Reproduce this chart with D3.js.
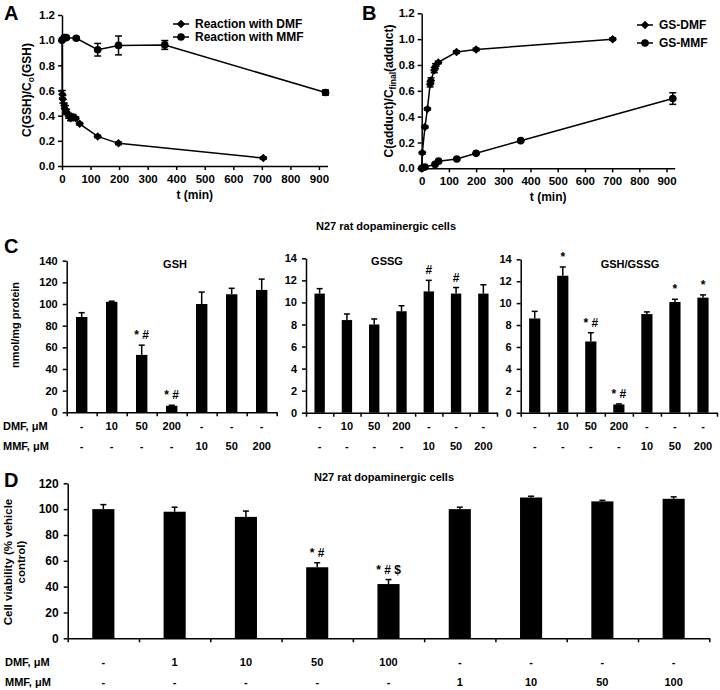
<!DOCTYPE html>
<html>
<head>
<meta charset="utf-8">
<title>DMF / MMF and GSH</title>
<style>
  body { margin: 0; background: #fff; }
  text { font-family: "Liberation Sans", Arial, sans-serif; font-weight: bold; fill: #000; }
</style>
</head>
<body>
<script src="https://cdn.jsdelivr.net/npm/d3@7/dist/d3.min.js"></script>
<script>
// ---- panel A : GSH left over (C/C0) ----
var timeTicks = [0, 100, 200, 300, 400, 500, 600, 700, 800, 900];
var ratioTicks = [0, 0.2, 0.4, 0.6, 0.8, 1.0, 1.2];

var aDmfTime  = [0, 1, 3, 8, 12, 16, 23, 30, 38, 48, 62, 125, 198, 705];
var aDmfValue = [1.0, 0.57, 0.53, 0.48, 0.45, 0.43, 0.40, 0.38, 0.39, 0.38, 0.335, 0.235, 0.18, 0.063];
var aDmfErr   = [0, 0.03, 0.03, 0.02, 0.03, 0.02, 0.02, 0.02, 0.02, 0.01, 0.01, 0.01, 0.01, 0.01];
var aMmfTime  = [0, 8, 15, 50, 125, 198, 360, 923];
var aMmfValue = [1.0, 1.02, 1.02, 1.015, 0.924, 0.958, 0.962, 0.584];
var aMmfErr   = [0, 0.01, 0.01, 0.01, 0.05, 0.075, 0.035, 0.02];

// ---- panel B : adduct formed (C/Cfinal) ----
var bDmfTime  = [0, 2, 12, 21, 31, 34, 46, 51, 61, 128, 200, 702];
var bDmfValue = [0, 0.12, 0.32, 0.46, 0.65, 0.68, 0.76, 0.79, 0.82, 0.90, 0.92, 1.0];
var bDmfErr   = [0, 0.01, 0.01, 0.01, 0.02, 0.02, 0.02, 0.02, 0.01, 0.01, 0.01, 0.01];
var bMmfTime  = [0, 12, 49, 62, 129, 200, 364, 923];
var bMmfValue = [0, 0.01, 0.03, 0.055, 0.072, 0.116, 0.214, 0.54];
var bMmfErr   = [0, 0, 0.005, 0.005, 0.005, 0.005, 0.005, 0.045];

// ---- panel C : N27 cells, 7 groups ----
var cDmfRow = ["-", "10", "50", "200", "-", "-", "-"];
var cMmfRow = ["-", "-", "-", "-", "10", "50", "200"];
var gshTicks  = [0, 20, 40, 60, 80, 100, 120, 140];
var gssgTicks = [0, 2, 4, 6, 8, 10, 12, 14];
var gshValue  = [88, 102, 53, 6, 100, 109, 113];
var gshErr    = [4, 0.6, 9, 0.5, 11, 5.5, 10];
var gshNote   = ["", "", "* #", "* #", "", "", ""];
var gssgValue = [10.8, 8.4, 8.0, 9.2, 11.0, 10.8, 10.8];
var gssgErr   = [0.45, 0.55, 0.5, 0.5, 1.0, 0.55, 0.8];
var gssgNote  = ["", "", "", "", "#", "#", ""];
var ratioValue = [8.6, 12.5, 6.5, 0.75, 9.0, 10.1, 10.5];
var ratioErr   = [0.65, 0.8, 0.8, 0.05, 0.2, 0.25, 0.25];
var ratioNote  = ["", "*", "* #", "* #", "", "*", "*"];

// ---- panel D : cell viability, 9 groups ----
var dDmfRow = ["-", "1", "10", "50", "100", "-", "-", "-", "-"];
var dMmfRow = ["-", "-", "-", "-", "-", "1", "10", "50", "100"];
var viaTicks = [0, 20, 40, 60, 80, 100, 120];
var viaValue = [100, 98, 94, 55, 42, 100, 109, 106, 108];
var viaErr   = [3.5, 3.5, 4.5, 3.5, 3.5, 1.5, 1, 0.8, 1.5];
var viaNote  = ["", "", "", "* #", "* # $", "", "", "", ""];

var FONT = "'Liberation Sans', Arial, sans-serif";

var svg = d3.select("body").append("svg")
    .attr("width", 720)
    .attr("height", 690);

function fixAxis(g, size) {
  g.attr("font-family", FONT).attr("font-size", size).attr("font-weight", "bold");
  g.selectAll("path, line").attr("stroke", "#000").attr("stroke-width", 1.5);
  g.selectAll("text").attr("fill", "#000");
}

// diamond marker, a square turned on its corner
var diamond = {
  draw: function(ctx, size) {
    var r = Math.sqrt(size) / 2;
    ctx.moveTo(0, -r); ctx.lineTo(r, 0); ctx.lineTo(0, r); ctx.lineTo(-r, 0); ctx.closePath();
  }
};

function linePanel(o) {
  var x = d3.scaleLinear().domain([0, 930]).range([o.left, o.right]);
  var y = d3.scaleLinear().domain([0, 1.2]).range([o.bottom, o.top]);

  var gx = svg.append("g")
      .attr("transform", "translate(0," + o.bottom + ")")
      .call(d3.axisBottom(x).tickValues(timeTicks).tickSize(4).tickSizeOuter(0).tickPadding(5));
  fixAxis(gx, 11.5);
  var gy = svg.append("g")
      .attr("transform", "translate(" + o.left + ",0)")
      .call(d3.axisLeft(y).tickValues(ratioTicks).tickFormat(d3.format(".1f")).tickSize(4).tickSizeOuter(0).tickPadding(3));
  fixAxis(gy, 11.5);

  svg.append("text")
      .attr("x", (o.left + o.right) / 2).attr("y", o.bottom + 33)
      .attr("text-anchor", "middle").attr("font-size", 12)
      .text("t (min)");

  var yl = svg.append("text")
      .attr("transform", "translate(" + o.labelX + "," + o.labelY + ") rotate(-90)")
      .attr("text-anchor", "middle").attr("font-size", 12);
  yl.append("tspan").text(o.label[0]);
  yl.append("tspan").attr("font-size", 8.5).attr("dy", 3).text(o.label[1]);
  yl.append("tspan").attr("dy", -3).text(o.label[2]);

  o.series.forEach(function(s, k) {
    var pts = s.t.map(function(t, i) { return {t: t, v: s.v[i], e: s.e[i]}; });
    var line = d3.line().x(function(d) { return x(d.t); }).y(function(d) { return y(d.v); });
    var g = svg.append("g");
    g.append("path").attr("d", line(pts))
        .attr("fill", "none").attr("stroke", "#000").attr("stroke-width", 1.5);

    var eb = g.selectAll(".eb").data(pts.filter(function(d) { return d.e > 0; })).enter().append("g")
        .attr("stroke", "#000").attr("stroke-width", 1.5);
    eb.append("line")
        .attr("x1", function(d) { return x(d.t); }).attr("x2", function(d) { return x(d.t); })
        .attr("y1", function(d) { return y(d.v - d.e); }).attr("y2", function(d) { return y(d.v + d.e); });
    eb.append("line")
        .attr("x1", function(d) { return x(d.t) - 3.5; }).attr("x2", function(d) { return x(d.t) + 3.5; })
        .attr("y1", function(d) { return y(d.v - d.e); }).attr("y2", function(d) { return y(d.v - d.e); });
    eb.append("line")
        .attr("x1", function(d) { return x(d.t) - 3.5; }).attr("x2", function(d) { return x(d.t) + 3.5; })
        .attr("y1", function(d) { return y(d.v + d.e); }).attr("y2", function(d) { return y(d.v + d.e); });

    var sym = d3.symbol().type(s.shape === "diamond" ? diamond : d3.symbolCircle).size(s.shape === "diamond" ? 72 : 46);
    g.selectAll(".pt").data(pts).enter().append("path")
        .attr("d", sym)
        .attr("transform", function(d) { return "translate(" + x(d.t) + "," + y(d.v) + ")"; })
        .attr("fill", "#000");

    // legend
    var ly = o.legY + k * o.legGap;
    svg.append("line").attr("x1", o.legX).attr("x2", o.legX + 16).attr("y1", ly).attr("y2", ly)
        .attr("stroke", "#000").attr("stroke-width", 1.5);
    svg.append("path").attr("d", sym).attr("transform", "translate(" + (o.legX + 8) + "," + ly + ")");
    svg.append("text").attr("x", o.legX + 22).attr("y", ly).attr("dy", "0.35em")
        .attr("font-size", 12).text(s.name);
  });
}

function barPanel(o) {
  var n = o.values.length;
  var x = d3.scaleBand().domain(d3.range(n)).range([o.left, o.right]).paddingInner(o.pad).paddingOuter(o.pad / 2);
  var xb = d3.scaleLinear().domain([0, n]).range([o.left, o.right]);
  var y = d3.scaleLinear().domain([0, o.ticks[o.ticks.length - 1]]).range([o.bottom, o.top]);
  var bw = x.bandwidth();

  var gx = svg.append("g")
      .attr("transform", "translate(0," + o.bottom + ")")
      .call(d3.axisBottom(xb).tickValues(d3.range(n + 1)).tickFormat("").tickSize(4).tickSizeOuter(0));
  fixAxis(gx, 11);
  var gy = svg.append("g")
      .attr("transform", "translate(" + o.left + ",0)")
      .call(d3.axisLeft(y).tickValues(o.ticks).tickSize(4).tickSizeOuter(0).tickPadding(5));
  fixAxis(gy, o.tickFont);

  var g = svg.append("g");
  g.selectAll("rect").data(o.values).enter().append("rect")
      .attr("x", function(d, i) { return x(i); })
      .attr("y", function(d) { return y(d); })
      .attr("width", bw)
      .attr("height", function(d) { return o.bottom - y(d); })
      .attr("fill", "#000");

  var eg = g.selectAll(".err").data(o.values).enter().append("g")
      .attr("stroke", "#000").attr("stroke-width", 1.5);
  eg.append("line")
      .attr("x1", function(d, i) { return x(i) + bw / 2; }).attr("x2", function(d, i) { return x(i) + bw / 2; })
      .attr("y1", function(d) { return y(d); })
      .attr("y2", function(d, i) { return y(d + o.errors[i]); });
  eg.append("line")
      .attr("x1", function(d, i) { return x(i) + bw / 2 - 3; }).attr("x2", function(d, i) { return x(i) + bw / 2 + 3; })
      .attr("y1", function(d, i) { return y(d + o.errors[i]); })
      .attr("y2", function(d, i) { return y(d + o.errors[i]); });

  g.selectAll(".note").data(o.notes).enter().append("text")
      .attr("x", function(d, i) { return x(i) + bw / 2; })
      .attr("y", function(d, i) { return y(o.values[i] + o.errors[i]) - 6; })
      .attr("text-anchor", "middle").attr("font-size", 12)
      .text(function(d) { return d; });

  if (o.title) {
    svg.append("text").attr("x", o.titleX).attr("y", o.titleY)
        .attr("text-anchor", "middle").attr("font-size", 11).text(o.title);
  }

  [o.row1, o.row2].forEach(function(row, r) {
    svg.append("g").selectAll("text").data(row).enter().append("text")
        .attr("x", function(d, i) { return x(i) + bw / 2; })
        .attr("y", o.rowY[r]).attr("dy", "0.35em")
        .attr("text-anchor", "middle").attr("font-size", 11)
        .text(function(d) { return d; });
  });
}

// ---- panel letters ----
[["A", 4, 20], ["B", 362, 20], ["C", 4, 253], ["D", 4, 487]].forEach(function(p) {
  svg.append("text").attr("x", p[1]).attr("y", p[2]).attr("font-size", 20).text(p[0]);
});

linePanel({
  left: 62, right: 327.5, top: 15, bottom: 166,
  label: ["C(GSH)/C", "o", "(GSH)"], labelX: 31, labelY: 90,
  legX: 173, legY: 24, legGap: 13,
  series: [
    {name: "Reaction with DMF", shape: "diamond", t: aDmfTime, v: aDmfValue, e: aDmfErr},
    {name: "Reaction with MMF", shape: "circle", t: aMmfTime, v: aMmfValue, e: aMmfErr}
  ]
});

linePanel({
  left: 421.7, right: 674.7, top: 13.3, bottom: 168.3,
  label: ["C(adduct)/C", "final", "(adduct)"], labelX: 393, labelY: 91,
  legX: 637, legY: 25, legGap: 18,
  series: [
    {name: "GS-DMF", shape: "diamond", t: bDmfTime, v: bDmfValue, e: bDmfErr},
    {name: "GS-MMF", shape: "circle", t: bMmfTime, v: bMmfValue, e: bMmfErr}
  ]
});

// ---- panel C ----
svg.append("text").attr("x", 386).attr("y", 230).attr("text-anchor", "middle")
    .attr("font-size", 11).text("N27 rat dopaminergic cells");
svg.append("text").attr("transform", "translate(19,325) rotate(-90)")
    .attr("text-anchor", "middle").attr("font-size", 11).text("nmol/mg protein");
svg.append("text").attr("x", 3).attr("y", 426).attr("dy", "0.35em").attr("font-size", 11).text("DMF, μM");
svg.append("text").attr("x", 3).attr("y", 446).attr("dy", "0.35em").attr("font-size", 11).text("MMF, μM");

barPanel({left: 66.7, right: 276.7, top: 260.7, bottom: 412.3, pad: 0.62, ticks: gshTicks, tickFont: 11,
  values: gshValue, errors: gshErr, notes: gshNote, title: "GSH", titleX: 175, titleY: 268,
  row1: cDmfRow, row2: cMmfRow, rowY: [426, 446]});
barPanel({left: 306, right: 497, top: 258.3, bottom: 412.7, pad: 0.62, ticks: gssgTicks, tickFont: 11,
  values: gssgValue, errors: gssgErr, notes: gssgNote, title: "GSSG", titleX: 387, titleY: 265,
  row1: cDmfRow, row2: cMmfRow, rowY: [426, 446]});
barPanel({left: 520.7, right: 717, top: 259.3, bottom: 412.7, pad: 0.6, ticks: gssgTicks, tickFont: 11,
  values: ratioValue, errors: ratioErr, notes: ratioNote, title: "GSH/GSSG", titleX: 630, titleY: 268,
  row1: cDmfRow, row2: cMmfRow, rowY: [426, 446]});

// ---- panel D ----
svg.append("text").attr("x", 384).attr("y", 481).attr("text-anchor", "middle")
    .attr("font-size", 11).text("N27 rat dopaminergic cells");
var dl = svg.append("text").attr("transform", "translate(15,562) rotate(-90)")
    .attr("text-anchor", "middle").attr("font-size", 11.5);
dl.append("tspan").attr("x", 0).attr("dy", "-0.25em").text("Cell viability (% vehicle");
dl.append("tspan").attr("x", 0).attr("dy", "1.15em").text("control)");
svg.append("text").attr("x", 5).attr("y", 662).attr("dy", "0.35em").attr("font-size", 11).text("DMF, μM");
svg.append("text").attr("x", 5).attr("y", 682).attr("dy", "0.35em").attr("font-size", 11).text("MMF, μM");

barPanel({left: 67.7, right: 709.3, top: 483.3, bottom: 638.3, pad: 0.69, ticks: viaTicks, tickFont: 12,
  values: viaValue, errors: viaErr, notes: viaNote, title: null,
  row1: dDmfRow, row2: dMmfRow, rowY: [662, 682]});
</script>
</body>
</html>
